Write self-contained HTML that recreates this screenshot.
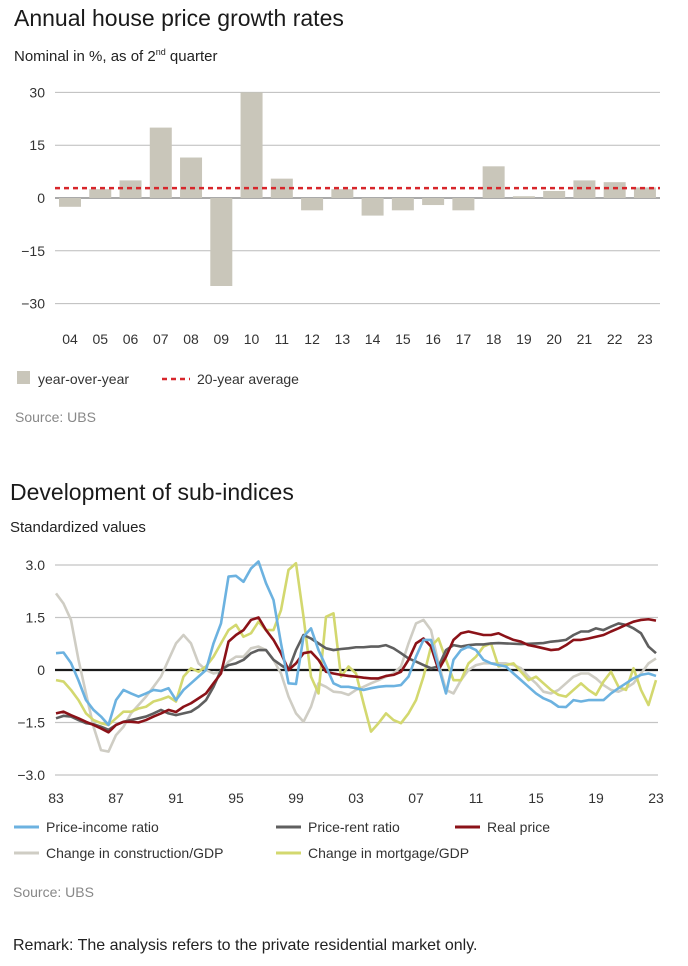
<!DOCTYPE html>
<html><head><meta charset="utf-8"><style>
body{margin:0;width:688px;height:966px;background:#fff;font-family:"Liberation Sans",sans-serif;color:#222;position:relative;overflow:hidden}
.t{position:absolute;white-space:nowrap}
svg{position:absolute;left:0;top:0}
svg text{font-family:"Liberation Sans",sans-serif}
</style></head><body>
<div class="t" style="left:14px;top:5px;font-size:23px;font-weight:300;color:#1a1a1a">Annual house price growth rates</div>
<div class="t" style="left:14px;top:47px;font-size:15px">Nominal in %, as of 2<sup style="font-size:9px">nd</sup> quarter</div>
<div class="t" style="left:15px;top:409px;font-size:14px;color:#888">Source: UBS</div>
<div class="t" style="left:10px;top:479px;font-size:23px;font-weight:300;color:#1a1a1a">Development of sub-indices</div>
<div class="t" style="left:10px;top:519px;font-size:15px">Standardized values</div>
<div class="t" style="left:13px;top:884px;font-size:14px;color:#888">Source: UBS</div>
<div class="t" style="left:13px;top:937px;font-size:16px">Remark: The analysis refers to the private residential market only.</div>
<svg id="c1" width="688" height="400"></svg>
<svg id="c2" width="688" height="966" style="pointer-events:none"></svg>
<script>
const barYears=["04","05","06","07","08","09","10","11","12","13","14","15","16","17","18","19","20","21","22","23"];
const barValues=[-2.5,2.5,5,20,11.5,-25,30,5.5,-3.5,2.5,-5,-3.5,-2,-3.5,9,0.5,2,5,4.5,3];
const avgValue=2.8;
const c1Ticks=[30,15,0,-15,-30];
const NS="http://www.w3.org/2000/svg";
function mk(p,tag,a){const e=document.createElementNS(NS,tag);for(const k in a)e.setAttribute(k,a[k]);p.appendChild(e);return e;}
const s1=document.getElementById('c1');
const y1=v=>198-v*3.52, x1=i=>70+i*30.26;
c1Ticks.forEach(t=>{
 const l=mk(s1,'line',{x1:55,x2:660,y1:y1(t),y2:y1(t),stroke:t===0?'#555':'#bbb','stroke-width':1});
 
 
 const tx=mk(s1,'text',{x:45,y:y1(t)+5,'text-anchor':'end','font-size':14,fill:'#333'});tx.textContent=(t<0?'\u2212'+(-t):t);
 
 
});
barValues.forEach((v,i)=>{
 const r=mk(s1,'rect',{x:x1(i)-11,y:Math.min(y1(v),y1(0)),width:22,height:Math.abs(y1(v)-y1(0)),fill:'#c9c6ba'});
 
 
 const tx=mk(s1,'text',{x:x1(i),y:344,'text-anchor':'middle','font-size':14,fill:'#333'});tx.textContent=barYears[i];
 
 
});
const av=mk(s1,'line',{x1:55,x2:660,y1:y1(avgValue),y2:y1(avgValue),stroke:'#d7262b','stroke-width':2.5,'stroke-dasharray':'5,4'});


const lb=mk(s1,'rect',{x:17,y:371,width:13,height:13,fill:'#c9c6ba'});


let lt=mk(s1,'text',{x:38,y:384,'font-size':14,fill:'#333'});lt.textContent='year-over-year';


const ld=mk(s1,'line',{x1:162,x2:190,y1:379,y2:379,stroke:'#d7262b','stroke-width':2.5,'stroke-dasharray':'5,4'});


lt=mk(s1,'text',{x:197,y:384,'font-size':14,fill:'#333'});lt.textContent='20-year average';


</script>
<script>
const startYear=1983, stepYears=0.5;
const xTickLabels=["83","87","91","95","99","03","07","11","15","19","23"];
const yTicks=[3,1.5,0,-1.5,-3];
const priceIncome=[0.48,0.5,0.2,-0.3,-0.86,-1.14,-1.33,-1.57,-0.86,-0.57,-0.67,-0.76,-0.67,-0.57,-0.6,-0.52,-0.86,-0.57,-0.38,-0.19,0,0.76,1.33,2.67,2.69,2.52,2.9,3.1,2.48,2.0,0.76,-0.38,-0.4,0.95,1.19,0.57,0.1,-0.38,-0.48,-0.48,-0.52,-0.57,-0.52,-0.48,-0.46,-0.46,-0.43,-0.19,0.38,0.86,0.86,0.1,-0.67,0.29,0.57,0.67,0.57,0.29,0.19,0.14,0.1,-0.1,-0.29,-0.48,-0.67,-0.81,-0.9,-1.05,-1.06,-0.86,-0.9,-0.86,-0.86,-0.86,-0.67,-0.52,-0.38,-0.24,-0.14,-0.1,-0.17];
const priceRent=[-1.38,-1.31,-1.33,-1.43,-1.52,-1.55,-1.62,-1.71,-1.57,-1.48,-1.43,-1.38,-1.33,-1.24,-1.14,-1.24,-1.29,-1.24,-1.19,-1.05,-0.86,-0.48,0,0.14,0.19,0.29,0.48,0.57,0.57,0.29,0.14,0,0.57,1.0,0.9,0.76,0.62,0.57,0.6,0.62,0.65,0.65,0.67,0.67,0.71,0.62,0.48,0.33,0.24,0.14,0.05,0.1,0.57,0.71,0.67,0.71,0.73,0.73,0.76,0.77,0.76,0.75,0.74,0.75,0.76,0.77,0.81,0.83,0.86,1.0,1.1,1.1,1.19,1.14,1.24,1.33,1.29,1.19,1.05,0.67,0.48];
const realPrice=[-1.24,-1.19,-1.29,-1.38,-1.48,-1.57,-1.67,-1.78,-1.57,-1.48,-1.48,-1.5,-1.43,-1.33,-1.24,-1.14,-1.2,-1.05,-0.95,-0.81,-0.67,-0.38,-0.1,0.81,1.0,1.14,1.43,1.5,1.14,0.86,0.48,0,0.19,0.48,0.52,0.29,-0.05,-0.1,-0.14,-0.17,-0.19,-0.22,-0.24,-0.24,-0.17,-0.14,-0.05,0.29,0.76,0.9,0.67,0,0.38,0.86,1.05,1.1,1.05,1.0,1.0,1.05,0.95,0.86,0.81,0.71,0.67,0.62,0.57,0.59,0.71,0.86,0.86,0.9,0.95,1.0,1.1,1.19,1.29,1.38,1.43,1.45,1.41];
const construction=[2.19,1.9,1.43,0.29,-0.67,-1.62,-2.29,-2.33,-1.86,-1.62,-1.24,-1.0,-0.76,-0.48,-0.19,0.29,0.76,1.0,0.76,0.19,0,-0.1,-0.05,0.24,0.38,0.38,0.62,0.67,0.57,0.29,-0.1,-0.76,-1.24,-1.48,-1.05,-0.38,-0.48,-0.62,-0.64,-0.71,-0.57,-0.48,-0.38,-0.29,-0.19,-0.1,0.1,0.76,1.33,1.43,1.14,0.19,-0.57,-0.67,-0.29,0,0.14,0.19,0.19,0.19,0.19,0.14,0.05,-0.19,-0.38,-0.62,-0.67,-0.57,-0.38,-0.19,-0.1,-0.1,-0.24,-0.43,-0.57,-0.62,-0.52,-0.38,-0.1,0.19,0.33];
const mortgage=[-0.29,-0.33,-0.57,-0.86,-1.24,-1.43,-1.52,-1.57,-1.38,-1.19,-1.19,-1.1,-1.05,-0.9,-0.84,-0.76,-0.9,-0.19,0.05,-0.05,0.1,0.38,0.76,1.14,1.29,0.95,1.05,1.38,1.14,1.14,1.71,2.86,3.05,1.52,-0.19,-0.67,1.52,1.62,-0.19,0.1,-0.1,-0.95,-1.76,-1.52,-1.24,-1.43,-1.52,-1.24,-0.86,-0.19,0.67,0.9,0.29,-0.29,-0.29,0.19,0.38,0.67,0.76,0.1,0.14,0.19,-0.05,-0.29,-0.19,-0.38,-0.57,-0.71,-0.76,-0.57,-0.38,-0.57,-0.71,-0.33,-0.05,-0.48,-0.57,0.05,-0.57,-1.0,-0.29];
const s2=document.getElementById('c2');
const x2=yr=>56+(yr-1983)*15, y2=v=>670-v*35;
yTicks.forEach(t=>{
 const l=mk(s2,'line',{x1:55,x2:658,y1:y2(t),y2:y2(t),stroke:t===0?'#1a1a1a':'#c4c4c4','stroke-width':t===0?2.2:1.2});
 
 
 const tx=mk(s2,'text',{x:45,y:y2(t)+5,'text-anchor':'end','font-size':14,fill:'#333'});tx.textContent=(t<0?'\u2212'+(-t).toFixed(1):(t===0?'0':t.toFixed(1)));
 
 
});
xTickLabels.forEach((lab,i)=>{
 const tx=mk(s2,'text',{x:x2(1983+i*4),y:803,'text-anchor':'middle','font-size':14,fill:'#333'});tx.textContent=lab;
 
 
});
const series=[[construction,'#cfcdc4','construction'],[mortgage,'#d3d86f','mortgage'],[priceRent,'#5f5f5f','price-rent'],[realPrice,'#8b1218','real-price'],[priceIncome,'#6cb2e0','price-income']];
series.forEach(([d,c,n])=>{
 const p=mk(s2,'polyline',{points:d.map((v,i)=>x2(startYear+i*stepYears)+','+y2(v)).join(' '),fill:'none',stroke:c,'stroke-width':2.6,'stroke-linejoin':'round'});
 
 
});
const leg=[[14,827,'#6cb2e0','Price-income ratio'],[276,827,'#5f5f5f','Price-rent ratio'],[455,827,'#8b1218','Real price'],[14,853,'#cfcdc4','Change in construction/GDP'],[276,853,'#d3d86f','Change in mortgage/GDP']];
leg.forEach(([x,y,c,t])=>{
 const l=mk(s2,'line',{x1:x,x2:x+25,y1:y,y2:y,stroke:c,'stroke-width':3});
 
 
 const tx=mk(s2,'text',{x:x+32,y:y+5,'font-size':14,fill:'#333'});tx.textContent=t;
 
 
});
</script>
</body></html>
